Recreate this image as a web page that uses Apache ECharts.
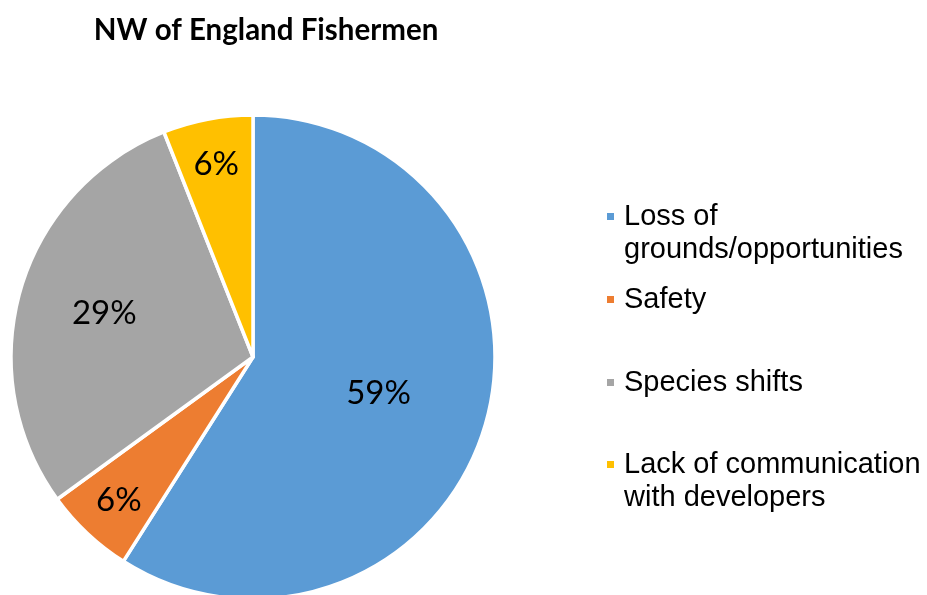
<!DOCTYPE html>
<html>
<head>
<meta charset="utf-8">
<script src="https://cdn.jsdelivr.net/npm/echarts@6/dist/echarts.min.js"></script>
<style>
  html, body { margin: 0; padding: 0; background: #fff; }
  #chart { width: 927px; height: 595px; }
</style>
</head>
<body>
<div id="chart"></div>
<script>
// categories and shares (%)
const categories = [
  'Loss of\ngrounds/opportunities',
  'Safety',
  'Species shifts',
  'Lack of communication\nwith developers'
];
const shares = [59, 6, 29, 6];
const colors = ['#5B9BD5', '#ED7D31', '#A5A5A5', '#FFC000'];

const CX = 253, CY = 357, R = 242;
const LINE = 33;
const legendTops = [167, 283, 366, 415];

const chart = echarts.init(document.getElementById('chart'), null, { renderer: 'canvas' });

// Excel "best fit" puts small-slice labels further out
function labelFrac(v) {
  if (v < 10) return 0.81;
  if (v < 40) return 0.64;
  return 0.54;
}

// one legend per item so the uneven Excel spacing can be kept;
// a leading blank line keeps the marker level with the first text line
const legends = categories.map(function (name, i) {
  const twoLines = name.indexOf('\n') >= 0;
  return {
    data: [name],
    orient: 'vertical',
    left: 605,
    top: legendTops[i],
    padding: 0,
    icon: 'rect',
    itemWidth: 9,
    itemHeight: 9,
    selectedMode: false,
    formatter: function (n) { return twoLines ? '\n' + n : n; },
    textStyle: {
      fontFamily: '"Liberation Sans", Arial, sans-serif',
      fontSize: 29,
      color: '#000',
      lineHeight: LINE,
      padding: [0, 0, 0, 4]
    }
  };
});

chart.setOption({
  animation: false,
  backgroundColor: '#fff',
  color: colors,
  title: {
    text: 'NW of England Fishermen',
    left: 261,
    top: 10,
    textAlign: 'center',
    textStyle: {
      fontFamily: 'Lato, "Open Sans", sans-serif',
      fontWeight: 'bold',
      fontSize: 29.5,
      color: '#000'
    }
  },
  legend: legends,
  series: [{
    type: 'pie',
    center: [CX, CY],
    radius: R,
    startAngle: 90,
    clockwise: true,
    avoidLabelOverlap: false,
    itemStyle: { borderColor: '#fff', borderWidth: 3.5 },
    label: {
      show: true,
      position: 'inside',
      formatter: '{c}%',
      fontFamily: 'Lato, "Open Sans", sans-serif',
      fontSize: 33,
      color: '#000'
    },
    labelLine: { show: false },
    labelLayout: function (p) {
      const lx = p.labelRect.x + p.labelRect.width / 2;
      const ly = p.labelRect.y + p.labelRect.height / 2;
      const dx = lx - CX, dy = ly - CY;
      const d = Math.sqrt(dx * dx + dy * dy) || 1;
      const f = labelFrac(shares[p.dataIndex]) * R;
      return { x: CX + dx / d * f, y: CY + dy / d * f, align: 'center', verticalAlign: 'middle' };
    },
    data: categories.map(function (c, i) { return { name: c, value: shares[i] }; })
  }]
});
</script>
</body>
</html>
